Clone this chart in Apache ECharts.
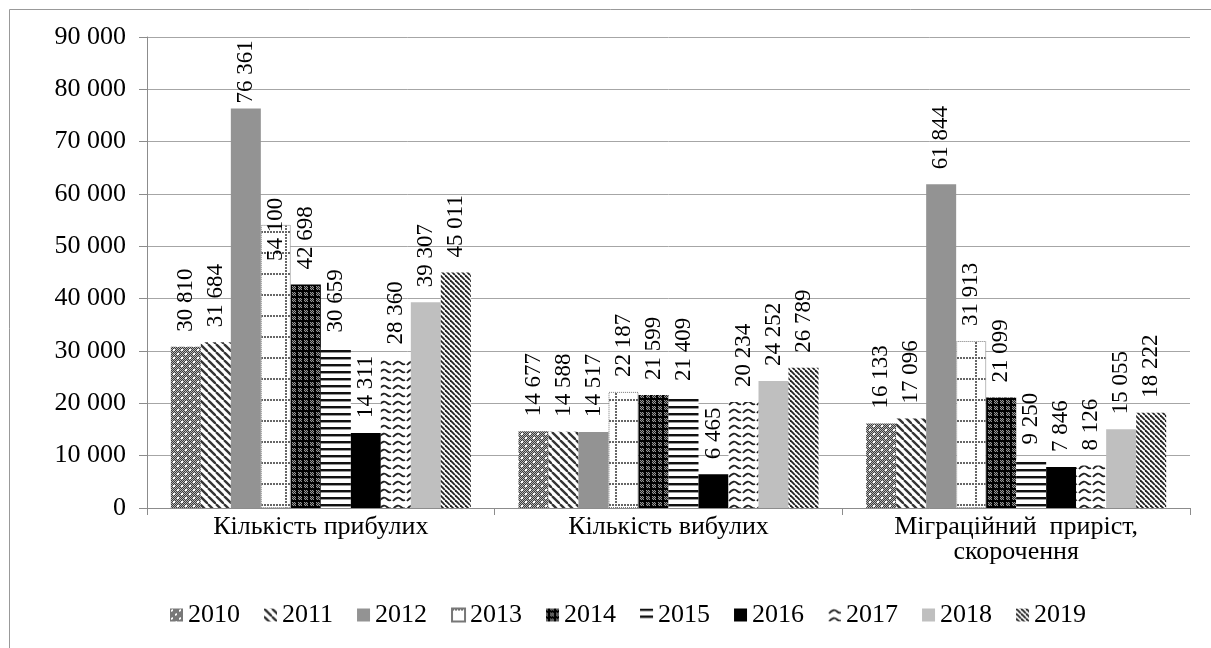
<!DOCTYPE html>
<html>
<head>
<meta charset="utf-8">
<script src="https://cdn.jsdelivr.net/npm/echarts@6/dist/echarts.min.js"></script>
<style>
  html, body { margin: 0; padding: 0; background: #fff; }
  #chart { width: 1211px; height: 648px; }
</style>
</head>
<body>
<div id="chart"></div>
<script>
// categories and values
const categories = ['Кількість прибулих', 'Кількість вибулих', 'Міграційний  приріст,\nскорочення']
const years = ['2010', '2011', '2012', '2013', '2014', '2015', '2016', '2017', '2018', '2019']
const values2010 = [30810, 14677, 16133]
const values2011 = [31684, 14588, 17096]
const values2012 = [76361, 14517, 61844]
const values2013 = [54100, 22187, 31913]
const values2014 = [42698, 21599, 21099]
const values2015 = [30659, 21409, 9250]
const values2016 = [14311, 6465, 7846]
const values2017 = [28360, 20234, 8126]
const values2018 = [39307, 24252, 15055]
const values2019 = [45011, 26789, 18222]
const seriesValues = [values2010, values2011, values2012, values2013, values2014,
    values2015, values2016, values2017, values2018, values2019]
const yTicks = { min: 0, max: 90000, step: 10000 }

const FONT = "'Liberation Serif', 'Times New Roman', serif"

// small canvas tiles imitating the Excel fill patterns
function tile(w, h, draw) {
    const c = document.createElement('canvas')
    c.width = w
    c.height = h
    const ctx = c.getContext('2d')
    ctx.fillStyle = '#fff'
    ctx.fillRect(0, 0, w, h)
    draw(ctx)
    return { image: c, repeat: 'repeat' }
}

const fills = [
    // 2010: gray checker with white dots
    tile(8, 8, ctx => {
        for (let y = 0; y < 8; y++) {
            for (let x = 0; x < 8; x++) {
                ctx.fillStyle = (x + y) % 2 ? '#3c3c3c' : '#b4b4b4'
                ctx.fillRect(x, y, 1, 1)
            }
        }
        ctx.fillStyle = '#fff'
        ctx.fillRect(1, 1, 2, 2)
        ctx.fillRect(5, 5, 2, 2)
    }),
    // 2011: wide diagonal stripes
    tile(8, 8, ctx => {
        ctx.strokeStyle = '#333'
        ctx.lineWidth = 2.3
        for (let k = -8; k <= 8; k += 8) {
            ctx.beginPath()
            ctx.moveTo(k, 0)
            ctx.lineTo(k + 8, 8)
            ctx.stroke()
        }
    }),
    '#939393',
    // 2013: dotted grid
    tile(30, 21, ctx => {
        ctx.fillStyle = '#666'
        for (let x = 0; x < 30; x += 3) ctx.fillRect(x, 0, 2, 2)
        for (let y = 3; y < 21; y += 3) ctx.fillRect(15, y, 2, 2)
    }),
    // 2014: dark crosses on checker
    tile(6, 6, ctx => {
        for (let y = 0; y < 6; y++) {
            for (let x = 0; x < 6; x++) {
                ctx.fillStyle = (x + y) % 2 ? '#222' : '#999'
                ctx.fillRect(x, y, 1, 1)
            }
        }
        ctx.fillStyle = '#000'
        ctx.fillRect(2, 0, 2, 6)
        ctx.fillRect(0, 2, 6, 2)
    }),
    // 2015: horizontal stripes
    tile(4, 7, ctx => {
        ctx.fillStyle = '#111'
        ctx.fillRect(0, 0, 4, 2)
        ctx.fillStyle = '#999'
        ctx.fillRect(0, 2, 4, 1)
    }),
    '#000000',
    // 2017: broken wavy lines
    tile(14, 8, ctx => {
        ctx.strokeStyle = '#222'
        ctx.lineWidth = 1.8
        ctx.beginPath()
        ctx.moveTo(1, 5)
        ctx.bezierCurveTo(4, 1, 7, 1, 9, 3)
        ctx.bezierCurveTo(10, 4, 11, 5, 13, 4)
        ctx.stroke()
    }),
    '#bfbfbf',
    // 2019: dense diagonal stripes
    tile(5, 5, ctx => {
        ctx.strokeStyle = '#222'
        ctx.lineWidth = 1.8
        for (let k = -5; k <= 5; k += 5) {
            ctx.beginPath()
            ctx.moveTo(k, 0)
            ctx.lineTo(k + 5, 5)
            ctx.stroke()
        }
    })
]

const fmt = v => String(v).replace(/\B(?=(\d{3})+(?!\d))/g, ' ')

// label offsets that differ from the default in the original
function labelDistance(i, j) {
    if (i === 3 && j === 0) return -36
    if (i === 2 && j === 0) return 5
    return null
}

const series = years.map((year, i) => ({
    name: year,
    type: 'bar',
    data: seriesValues[i].map((v, j) => {
        const d = labelDistance(i, j)
        return d === null ? v : { value: v, label: { distance: d } }
    }),
    barWidth: 30,
    barGap: '0%',
    itemStyle: Object.assign(
        { color: fills[i] },
        i === 3 ? { borderColor: '#777', borderWidth: 1, borderType: 'dotted' } : {}
    ),
    label: {
        show: true,
        position: 'top',
        rotate: 90,
        align: 'left',
        verticalAlign: 'middle',
        distance: 15,
        fontFamily: FONT,
        fontSize: 23,
        color: '#000',
        formatter: p => fmt(p.value)
    }
}))

const chart = echarts.init(document.getElementById('chart'))

chart.setOption({
    animation: false,
    backgroundColor: '#fff',
    grid: { left: 147, right: 21, top: 37, bottom: 140 },
    legend: {
        data: years,
        left: 165,
        top: 597,
        itemWidth: 13,
        itemHeight: 13,
        itemGap: 24,
        icon: 'rect',
        textStyle: { fontFamily: FONT, fontSize: 26, color: '#000' }
    },
    xAxis: {
        type: 'category',
        data: categories,
        axisLine: { lineStyle: { color: '#8c8c8c', width: 1 } },
        axisTick: { show: true, length: 7, lineStyle: { color: '#8c8c8c' } },
        axisLabel: {
            fontFamily: FONT, fontSize: 26, color: '#000', margin: 7, lineHeight: 25
        }
    },
    yAxis: {
        type: 'value',
        min: yTicks.min,
        max: yTicks.max,
        interval: yTicks.step,
        axisLine: { show: true, lineStyle: { color: '#8c8c8c', width: 1 } },
        axisTick: { show: true, length: 8, lineStyle: { color: '#8c8c8c' } },
        splitLine: { lineStyle: { color: '#a6a6a6', width: 1 } },
        axisLabel: {
            fontFamily: FONT, fontSize: 26, color: '#000', margin: 21,
            formatter: v => fmt(v)
        }
    },
    graphic: [
        { type: 'line', shape: { x1: 9.5, y1: 9.5, x2: 1211, y2: 9.5 }, style: { stroke: '#999', lineWidth: 1 } },
        { type: 'line', shape: { x1: 9.5, y1: 9.5, x2: 9.5, y2: 648 }, style: { stroke: '#999', lineWidth: 1 } }
    ],
    series: series
})
</script>
</body>
</html>
